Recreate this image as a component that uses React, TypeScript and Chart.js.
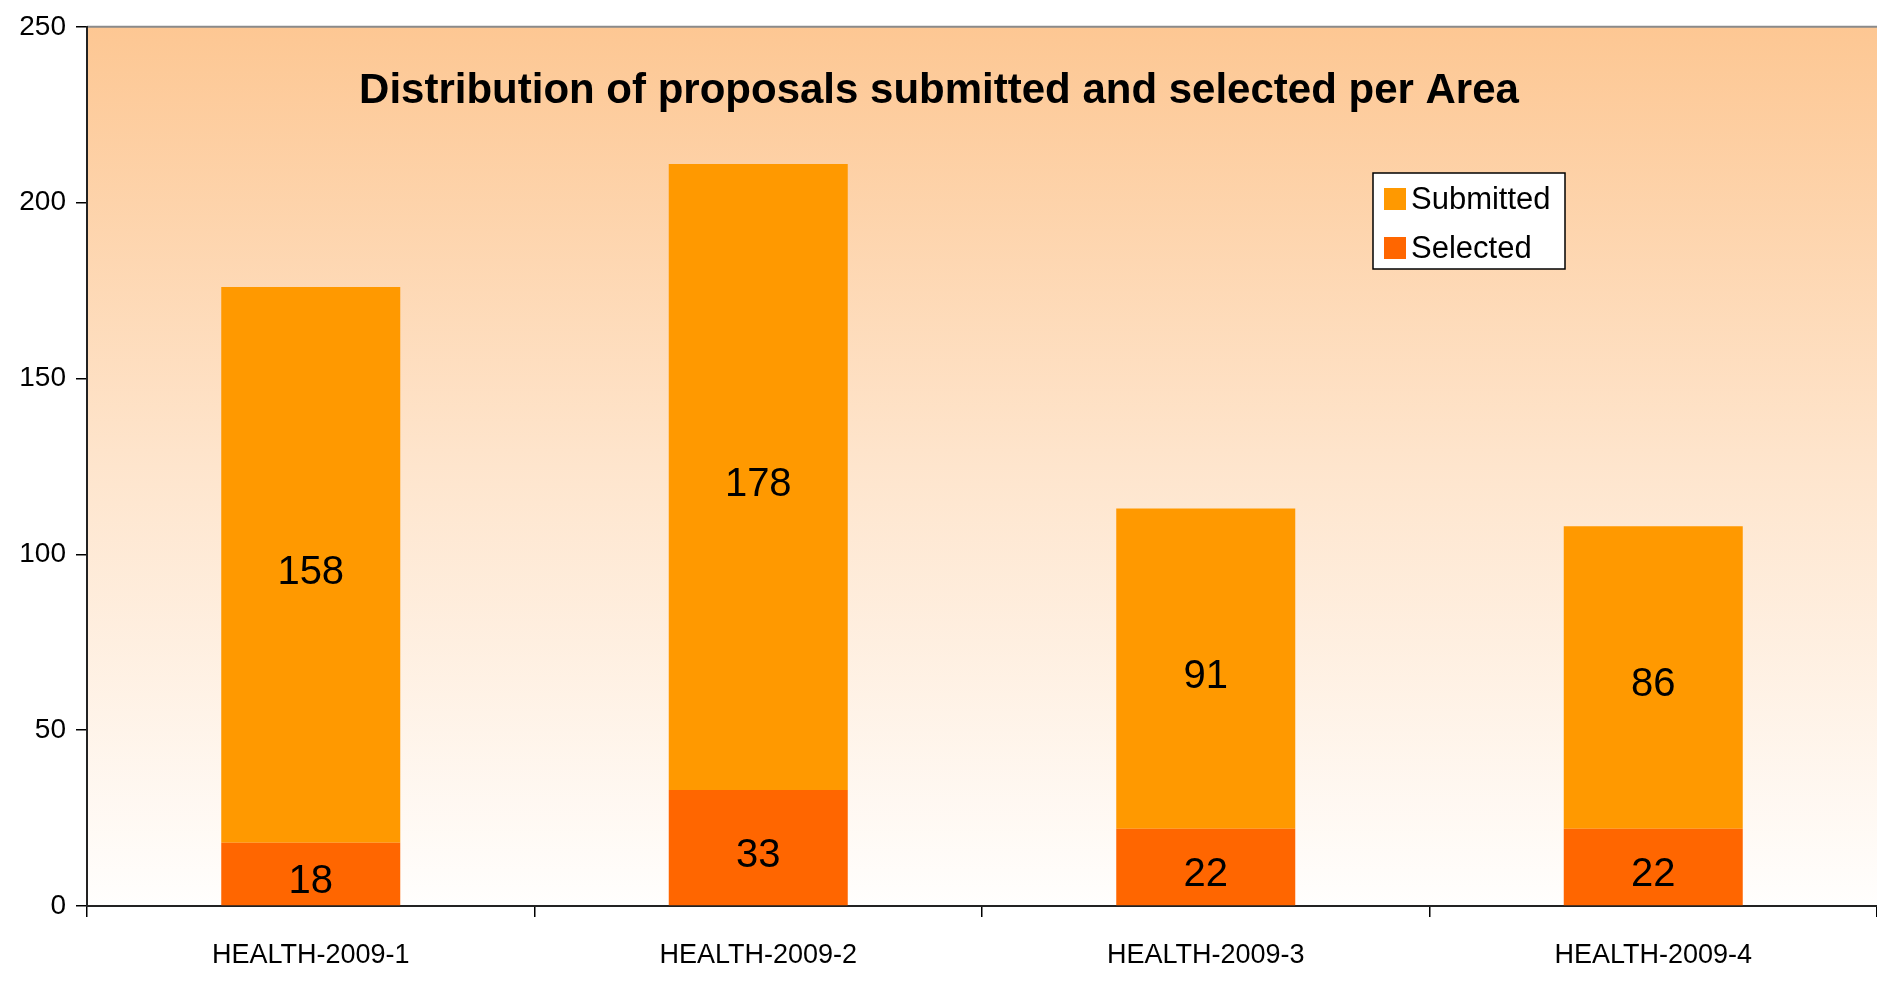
import React, { useEffect, useRef } from "react";
import { Chart, registerables } from "chart.js";

Chart.register(...registerables);

const categories = ["HEALTH-2009-1", "HEALTH-2009-2", "HEALTH-2009-3", "HEALTH-2009-4"];
const selectedValues = [18, 33, 22, 22];
const submittedValues = [158, 178, 91, 86];
const yTickValues = [0, 50, 100, 150, 200, 250];
const chartTitle = "Distribution of proposals submitted and selected per Area";
const legendLabels = ["Submitted", "Selected"];

const SUBMITTED_COLOR = "#FF9900";
const SELECTED_COLOR = "#FF6600";
const FONT = "'Liberation Sans', Arial, sans-serif";

const decorPlugin = {
  id: "decor",
  beforeDraw(chart: any) {
    const { ctx, chartArea, width, height } = chart;
    ctx.save();
    ctx.fillStyle = "#FFFFFF";
    ctx.fillRect(0, 0, width, height);
    const g = ctx.createLinearGradient(0, chartArea.top, 0, chartArea.bottom);
    g.addColorStop(0, "#FDC793");
    g.addColorStop(0.5, "#FEE5CD");
    g.addColorStop(1, "#FFFEFD");
    ctx.fillStyle = g;
    ctx.fillRect(chartArea.left, chartArea.top, chartArea.right - chartArea.left, chartArea.bottom - chartArea.top);
    ctx.strokeStyle = "#8A8A8A";
    ctx.lineWidth = 2;
    ctx.beginPath();
    ctx.moveTo(chartArea.left, chartArea.top);
    ctx.lineTo(chartArea.right, chartArea.top);
    ctx.stroke();
    ctx.restore();
  },
  afterDatasetsDraw(chart: any) {
    const { ctx } = chart;
    ctx.save();
    // data labels
    ctx.fillStyle = "#000000";
    ctx.font = `40px ${FONT}`;
    ctx.textAlign = "center";
    ctx.textBaseline = "middle";
    chart.data.datasets.forEach((ds: any, di: number) => {
      const meta = chart.getDatasetMeta(di);
      meta.data.forEach((bar: any, i: number) => {
        const cy = (bar.y + bar.base) / 2 + 8;
        ctx.fillText(String(ds.data[i]), bar.x, cy);
      });
    });
    // title
    ctx.font = `bold 42px ${FONT}`;
    ctx.fillText(chartTitle, 939, 91);
    // legend
    const bx = 1373, by = 173, bw = 192, bh = 96;
    ctx.fillStyle = "#FFFFFF";
    ctx.fillRect(bx, by, bw, bh);
    ctx.strokeStyle = "#000000";
    ctx.lineWidth = 1.5;
    ctx.strokeRect(bx, by, bw, bh);
    const legendColors = [SUBMITTED_COLOR, SELECTED_COLOR];
    const rows = [199, 248];
    ctx.font = `31px ${FONT}`;
    ctx.textAlign = "left";
    legendLabels.forEach((lab, i) => {
      ctx.fillStyle = legendColors[i];
      ctx.fillRect(1384, rows[i] - 11, 22, 22);
      ctx.fillStyle = "#000000";
      ctx.fillText(lab, 1411, rows[i] + 1);
    });
    ctx.restore();
  },
};

export default function App() {
  const ref = useRef<HTMLCanvasElement>(null);
  useEffect(() => {
    document.body.style.margin = "0";
    document.body.style.overflow = "hidden";
    const chart = new Chart(ref.current as HTMLCanvasElement, {
      type: "bar",
      data: {
        labels: categories,
        datasets: [
          {
            label: legendLabels[1],
            data: selectedValues,
            backgroundColor: SELECTED_COLOR,
            barPercentage: 0.4,
            categoryPercentage: 1,
          },
          {
            label: legendLabels[0],
            data: submittedValues,
            backgroundColor: SUBMITTED_COLOR,
            barPercentage: 0.4,
            categoryPercentage: 1,
          },
        ],
      },
      options: {
        animation: false,
        responsive: false,
        devicePixelRatio: 1,
        layout: { padding: { top: 24, right: -5, left: 0, bottom: 0 } },
        plugins: {
          legend: { display: false },
          title: { display: false },
          tooltip: { enabled: false },
        },
        scales: {
          x: {
            stacked: true,
            grid: {
              display: true,
              offset: true,
              drawOnChartArea: false,
              drawTicks: true,
              tickLength: 11,
              color: "#000000",
              lineWidth: 1.5,
            },
            border: { display: true, color: "#222222", width: 2 },
            ticks: {
              color: "#000000",
              font: { family: FONT, size: 27 },
              padding: 22,
              maxRotation: 0,
            },
            afterFit(scale: any) {
              scale.height = 87;
            },
          },
          y: {
            stacked: true,
            min: 0,
            max: 250,
            afterBuildTicks(scale: any) {
              scale.ticks = yTickValues.map((v) => ({ value: v }));
            },
            grid: {
              display: true,
              drawOnChartArea: false,
              drawTicks: true,
              tickLength: 11,
              color: "#000000",
              lineWidth: 1.5,
            },
            border: { display: true, color: "#222222", width: 2 },
            ticks: {
              color: "#000000",
              font: { family: FONT, size: 28 },
              padding: 10,
            },
            afterFit(scale: any) {
              scale.width = 87;
            },
          },
        },
      },
      plugins: [decorPlugin],
    });
    return () => chart.destroy();
  }, []);
  return (
    <div style={{ width: 1877, height: 993 }}>
      <canvas ref={ref} width={1877} height={993} />
    </div>
  );
}
